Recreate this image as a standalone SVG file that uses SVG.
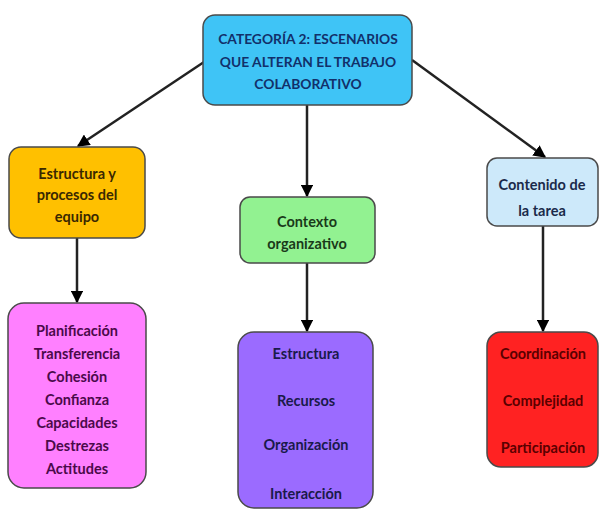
<svg xmlns="http://www.w3.org/2000/svg" width="600" height="511" viewBox="0 0 600 511">
<defs>
<marker id="ah" viewBox="0 0 10 10" refX="9" refY="5" markerWidth="5" markerHeight="5" orient="auto">
<path d="M0,0 L10,5 L0,10 z" fill="#000"/>
</marker>
<style>
.box{stroke:#4a4a4a;stroke-width:1.5}
.t{font-family:Lato,"Liberation Sans",sans-serif;font-weight:bold;font-size:14.5px;text-anchor:middle;dominant-baseline:central}
.c{stroke:#222;stroke-width:2.5;fill:none;marker-end:url(#ah)}
</style>
</defs>
<rect width="600" height="511" fill="#fff"/>
<g id="connectors">
<line class="c" x1="204" y1="62" x2="78" y2="146"/>
<line class="c" x1="307" y1="105" x2="307" y2="196"/>
<line class="c" x1="412" y1="60" x2="545" y2="157"/>
<line class="c" x1="77" y1="238" x2="77" y2="302"/>
<line class="c" x1="307" y1="263" x2="307" y2="331"/>
<line class="c" x1="543" y1="226" x2="543" y2="331"/>
</g>
<g id="n-categoria">
<rect class="box" x="203" y="15" width="209" height="90" rx="12" fill="#3FC4F6" stroke="#1a2a50"/>
<text class="t" fill="#12306a" style="font-size:13.8px"><tspan x="308" y="38">CATEGORÍA 2: ESCENARIOS</tspan><tspan x="308" y="61">QUE ALTERAN EL TRABAJO</tspan><tspan x="308" y="83">COLABORATIVO</tspan></text>
</g>
<g id="n-estructura">
<rect class="box" x="9" y="147" width="136" height="91" rx="12" fill="#FFC000" stroke="#b08a00"/>
<text class="t" fill="#3a2800"><tspan x="77" y="173">Estructura y</tspan><tspan x="77" y="194">procesos del</tspan><tspan x="77" y="216">equipo</tspan></text>
</g>
<g id="n-contexto">
<rect class="box" x="240" y="197" width="135" height="66" rx="10" fill="#92F291" stroke="#5a8a5a"/>
<text class="t" fill="#1a3a1a"><tspan x="307" y="221">Contexto</tspan><tspan x="307" y="243">organizativo</tspan></text>
</g>
<g id="n-contenido">
<rect class="box" x="487" y="158" width="111" height="68" rx="10" fill="#CDE9FA" stroke="#7a9ab0"/>
<text class="t" fill="#1a2a4a"><tspan x="542" y="184">Contenido de</tspan><tspan x="542" y="210">la tarea</tspan></text>
</g>
<g id="n-lista1">
<rect class="box" x="8" y="303" width="138" height="185" rx="16" fill="#FF80FF" stroke="#8a3a8a"/>
<text class="t" fill="#4a0a4a"><tspan x="77" y="330">Planificación</tspan><tspan x="77" y="353">Transferencia</tspan><tspan x="77" y="376">Cohesión</tspan><tspan x="77" y="399">Confianza</tspan><tspan x="77" y="422">Capacidades</tspan><tspan x="77" y="445">Destrezas</tspan><tspan x="77" y="468">Actitudes</tspan></text>
</g>
<g id="n-lista2">
<rect class="box" x="238" y="332" width="135" height="176" rx="16" fill="#9B6BFF" stroke="#4a3a7a"/>
<text class="t" fill="#1a1a4a"><tspan x="306" y="353">Estructura</tspan><tspan x="306" y="400">Recursos</tspan><tspan x="306" y="444">Organización</tspan><tspan x="306" y="493">Interacción</tspan></text>
</g>
<g id="n-lista3">
<rect class="box" x="487" y="332" width="111" height="135" rx="14" fill="#FF2222" stroke="#7a2020"/>
<text class="t" fill="#5a0000"><tspan x="543" y="353">Coordinación</tspan><tspan x="543" y="400">Complejidad</tspan><tspan x="543" y="447">Participación</tspan></text>
</g>
</svg>
